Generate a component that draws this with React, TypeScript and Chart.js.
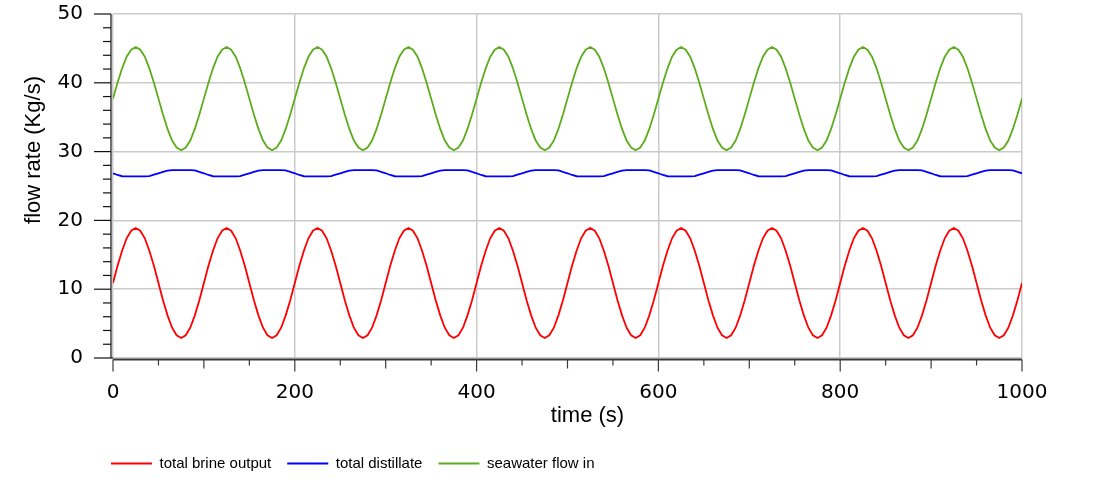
import { useEffect, useRef } from 'react';
import { Chart, registerables } from 'chart.js';

Chart.register(...registerables);

// sample times (s)
const timeSeconds = [
  0, 5, 10, 15, 20, 25, 30, 35, 40, 45, 50, 55, 60, 65, 70, 75, 80, 85, 90, 95,
  100, 105, 110, 115, 120, 125, 130, 135, 140, 145, 150, 155, 160, 165, 170, 175, 180, 185, 190, 195,
  200, 205, 210, 215, 220, 225, 230, 235, 240, 245, 250, 255, 260, 265, 270, 275, 280, 285, 290, 295,
  300, 305, 310, 315, 320, 325, 330, 335, 340, 345, 350, 355, 360, 365, 370, 375, 380, 385, 390, 395,
  400, 405, 410, 415, 420, 425, 430, 435, 440, 445, 450, 455, 460, 465, 470, 475, 480, 485, 490, 495,
  500, 505, 510, 515, 520, 525, 530, 535, 540, 545, 550, 555, 560, 565, 570, 575, 580, 585, 590, 595,
  600, 605, 610, 615, 620, 625, 630, 635, 640, 645, 650, 655, 660, 665, 670, 675, 680, 685, 690, 695,
  700, 705, 710, 715, 720, 725, 730, 735, 740, 745, 750, 755, 760, 765, 770, 775, 780, 785, 790, 795,
  800, 805, 810, 815, 820, 825, 830, 835, 840, 845, 850, 855, 860, 865, 870, 875, 880, 885, 890, 895,
  900, 905, 910, 915, 920, 925, 930, 935, 940, 945, 950, 955, 960, 965, 970, 975, 980, 985, 990, 995,
  1000,
];

// total brine output (Kg/s)
const brineOutput = [
  10.9, 13.4, 15.6, 17.4, 18.5, 18.9, 18.5, 17.4, 15.6, 13.4, 10.9, 8.4, 6.2, 4.4, 3.3, 2.9, 3.3, 4.4, 6.2, 8.4,
  10.9, 13.4, 15.6, 17.4, 18.5, 18.9, 18.5, 17.4, 15.6, 13.4, 10.9, 8.4, 6.2, 4.4, 3.3, 2.9, 3.3, 4.4, 6.2, 8.4,
  10.9, 13.4, 15.6, 17.4, 18.5, 18.9, 18.5, 17.4, 15.6, 13.4, 10.9, 8.4, 6.2, 4.4, 3.3, 2.9, 3.3, 4.4, 6.2, 8.4,
  10.9, 13.4, 15.6, 17.4, 18.5, 18.9, 18.5, 17.4, 15.6, 13.4, 10.9, 8.4, 6.2, 4.4, 3.3, 2.9, 3.3, 4.4, 6.2, 8.4,
  10.9, 13.4, 15.6, 17.4, 18.5, 18.9, 18.5, 17.4, 15.6, 13.4, 10.9, 8.4, 6.2, 4.4, 3.3, 2.9, 3.3, 4.4, 6.2, 8.4,
  10.9, 13.4, 15.6, 17.4, 18.5, 18.9, 18.5, 17.4, 15.6, 13.4, 10.9, 8.4, 6.2, 4.4, 3.3, 2.9, 3.3, 4.4, 6.2, 8.4,
  10.9, 13.4, 15.6, 17.4, 18.5, 18.9, 18.5, 17.4, 15.6, 13.4, 10.9, 8.4, 6.2, 4.4, 3.3, 2.9, 3.3, 4.4, 6.2, 8.4,
  10.9, 13.4, 15.6, 17.4, 18.5, 18.9, 18.5, 17.4, 15.6, 13.4, 10.9, 8.4, 6.2, 4.4, 3.3, 2.9, 3.3, 4.4, 6.2, 8.4,
  10.9, 13.4, 15.6, 17.4, 18.5, 18.9, 18.5, 17.4, 15.6, 13.4, 10.9, 8.4, 6.2, 4.4, 3.3, 2.9, 3.3, 4.4, 6.2, 8.4,
  10.9, 13.4, 15.6, 17.4, 18.5, 18.9, 18.5, 17.4, 15.6, 13.4, 10.9, 8.4, 6.2, 4.4, 3.3, 2.9, 3.3, 4.4, 6.2, 8.4,
  10.9,
];

// total distillate (Kg/s)
const totalDistillate = [
  26.85, 26.6, 26.42, 26.4, 26.4, 26.4, 26.4, 26.4, 26.45, 26.65, 26.85, 27.05, 27.25, 27.3, 27.3, 27.3, 27.3, 27.3, 27.27, 27.05,
  26.85, 26.6, 26.42, 26.4, 26.4, 26.4, 26.4, 26.4, 26.45, 26.65, 26.85, 27.05, 27.25, 27.3, 27.3, 27.3, 27.3, 27.3, 27.27, 27.05,
  26.85, 26.6, 26.42, 26.4, 26.4, 26.4, 26.4, 26.4, 26.45, 26.65, 26.85, 27.05, 27.25, 27.3, 27.3, 27.3, 27.3, 27.3, 27.27, 27.05,
  26.85, 26.6, 26.42, 26.4, 26.4, 26.4, 26.4, 26.4, 26.45, 26.65, 26.85, 27.05, 27.25, 27.3, 27.3, 27.3, 27.3, 27.3, 27.27, 27.05,
  26.85, 26.6, 26.42, 26.4, 26.4, 26.4, 26.4, 26.4, 26.45, 26.65, 26.85, 27.05, 27.25, 27.3, 27.3, 27.3, 27.3, 27.3, 27.27, 27.05,
  26.85, 26.6, 26.42, 26.4, 26.4, 26.4, 26.4, 26.4, 26.45, 26.65, 26.85, 27.05, 27.25, 27.3, 27.3, 27.3, 27.3, 27.3, 27.27, 27.05,
  26.85, 26.6, 26.42, 26.4, 26.4, 26.4, 26.4, 26.4, 26.45, 26.65, 26.85, 27.05, 27.25, 27.3, 27.3, 27.3, 27.3, 27.3, 27.27, 27.05,
  26.85, 26.6, 26.42, 26.4, 26.4, 26.4, 26.4, 26.4, 26.45, 26.65, 26.85, 27.05, 27.25, 27.3, 27.3, 27.3, 27.3, 27.3, 27.27, 27.05,
  26.85, 26.6, 26.42, 26.4, 26.4, 26.4, 26.4, 26.4, 26.45, 26.65, 26.85, 27.05, 27.25, 27.3, 27.3, 27.3, 27.3, 27.3, 27.27, 27.05,
  26.85, 26.6, 26.42, 26.4, 26.4, 26.4, 26.4, 26.4, 26.45, 26.65, 26.85, 27.05, 27.25, 27.3, 27.3, 27.3, 27.3, 27.3, 27.27, 27.05,
  26.85,
];

// seawater flow in (Kg/s)
const seawaterFlowIn = [
  37.7, 40.0, 42.1, 43.8, 44.8, 45.2, 44.8, 43.8, 42.1, 40.0, 37.7, 35.4, 33.3, 31.6, 30.6, 30.2, 30.6, 31.6, 33.3, 35.4,
  37.7, 40.0, 42.1, 43.8, 44.8, 45.2, 44.8, 43.8, 42.1, 40.0, 37.7, 35.4, 33.3, 31.6, 30.6, 30.2, 30.6, 31.6, 33.3, 35.4,
  37.7, 40.0, 42.1, 43.8, 44.8, 45.2, 44.8, 43.8, 42.1, 40.0, 37.7, 35.4, 33.3, 31.6, 30.6, 30.2, 30.6, 31.6, 33.3, 35.4,
  37.7, 40.0, 42.1, 43.8, 44.8, 45.2, 44.8, 43.8, 42.1, 40.0, 37.7, 35.4, 33.3, 31.6, 30.6, 30.2, 30.6, 31.6, 33.3, 35.4,
  37.7, 40.0, 42.1, 43.8, 44.8, 45.2, 44.8, 43.8, 42.1, 40.0, 37.7, 35.4, 33.3, 31.6, 30.6, 30.2, 30.6, 31.6, 33.3, 35.4,
  37.7, 40.0, 42.1, 43.8, 44.8, 45.2, 44.8, 43.8, 42.1, 40.0, 37.7, 35.4, 33.3, 31.6, 30.6, 30.2, 30.6, 31.6, 33.3, 35.4,
  37.7, 40.0, 42.1, 43.8, 44.8, 45.2, 44.8, 43.8, 42.1, 40.0, 37.7, 35.4, 33.3, 31.6, 30.6, 30.2, 30.6, 31.6, 33.3, 35.4,
  37.7, 40.0, 42.1, 43.8, 44.8, 45.2, 44.8, 43.8, 42.1, 40.0, 37.7, 35.4, 33.3, 31.6, 30.6, 30.2, 30.6, 31.6, 33.3, 35.4,
  37.7, 40.0, 42.1, 43.8, 44.8, 45.2, 44.8, 43.8, 42.1, 40.0, 37.7, 35.4, 33.3, 31.6, 30.6, 30.2, 30.6, 31.6, 33.3, 35.4,
  37.7, 40.0, 42.1, 43.8, 44.8, 45.2, 44.8, 43.8, 42.1, 40.0, 37.7, 35.4, 33.3, 31.6, 30.6, 30.2, 30.6, 31.6, 33.3, 35.4,
  37.7,
];

const seriesLabels = ['total brine output', 'total distillate', 'seawater flow in'];
const seriesColors = ['#ff0000', '#0000ff', '#5cac1c'];

const xAxisTitle = 'time (s)';
const yAxisTitle = 'flow rate (Kg/s)';
const xRange = [0, 1000];
const yRange = [0, 50];
const xLabelStep = 200;
const yLabelStep = 10;
const xMinorStep = 50;
const yMinorStep = 2;

const LEGEND_PAD = 16;
const LEGEND_X = 111;

const legendShift = {
  id: 'legendShift',
  beforeDraw(chart: any) {
    if (chart.legend) {
      chart.legend.left = LEGEND_X - LEGEND_PAD;
    }
  },
};

// the reference's axis titles sit off the axis centre
const titleOffsets: Record<string, [number, number]> = { x: [20, 0], y: [0, -36] };
const titleShift = {
  id: 'titleShift',
  afterLayout(chart: any) {
    Object.keys(titleOffsets).forEach((id) => {
      const s = chart.scales[id];
      if (!s || s.__titleShifted) return;
      const orig = s.drawTitle.bind(s);
      s.drawTitle = () => {
        const c = s.ctx;
        c.save();
        c.translate(titleOffsets[id][0], titleOffsets[id][1]);
        orig();
        c.restore();
      };
      s.__titleShifted = true;
    });
  },
};

const axisMarks = {
  id: 'axisMarks',
  afterDraw(chart: any) {
    const { ctx, chartArea: a, scales } = chart;
    const xs = scales.x;
    const ys = scales.y;
    const line = (x1: number, y1: number, x2: number, y2: number) => {
      ctx.beginPath();
      ctx.moveTo(x1, y1);
      ctx.lineTo(x2, y2);
      ctx.stroke();
    };
    ctx.save();
    // y axis
    ctx.strokeStyle = '#111';
    ctx.lineWidth = 1.2;
    const yx = a.left - 2;
    line(yx, a.top, yx, a.bottom);
    for (let v = yRange[0]; v <= yRange[1]; v += yMinorStep) {
      const py = ys.getPixelForValue(v);
      const major = v % yLabelStep === 0;
      line(yx - (major ? 17 : 8), py, v === yRange[0] ? a.left : yx, py);
    }
    // x axis
    ctx.strokeStyle = '#3a3a3a';
    ctx.lineWidth = 2;
    const xy = a.bottom + 1.5;
    line(a.left, xy, a.right, xy);
    ctx.lineWidth = 1.2;
    for (let v = xRange[0]; v <= xRange[1]; v += xMinorStep) {
      const px = xs.getPixelForValue(v);
      const len = v % xLabelStep === 0 ? 12 : v % 100 === 0 ? 9 : 6;
      line(px, xy, px, xy + len);
    }
    ctx.restore();
  },
};

export default function App() {
  const canvasRef = useRef<HTMLCanvasElement | null>(null);

  useEffect(() => {
    if (!canvasRef.current) return;
    const datasets = [brineOutput, totalDistillate, seawaterFlowIn].map((vals, i) => ({
      label: seriesLabels[i],
      data: vals,
      borderColor: seriesColors[i],
      backgroundColor: seriesColors[i],
      borderWidth: 1.8,
      pointRadius: 0,
      tension: 0,
      fill: false,
    }));
    const chart = new Chart(canvasRef.current, {
      type: 'line',
      data: { labels: timeSeconds, datasets },
      plugins: [legendShift, titleShift, axisMarks],
      options: {
        animation: false,
        responsive: true,
        maintainAspectRatio: false,
        events: [],
        layout: { padding: { top: 14, right: 72, left: 0, bottom: 0 } },
        plugins: {
          tooltip: { enabled: false },
          legend: {
            position: 'bottom',
            align: 'start',
            maxHeight: 40,
            labels: {
              boxWidth: 41,
              boxHeight: 0,
              padding: LEGEND_PAD,
              color: '#000',
              font: { family: 'Liberation Sans', size: 15 },
            },
          },
        },
        scales: {
          x: {
            type: 'linear',
            min: xRange[0],
            max: xRange[1],
            afterFit: (s: any) => {
              s.height = 82;
            },
            border: { display: false },
            grid: {
              color: '#cbcbcb',
              lineWidth: 1.5,
              drawTicks: true,
              tickLength: 23,
              tickColor: 'rgba(0,0,0,0)',
            },
            ticks: {
              stepSize: xLabelStep,
              autoSkip: false,
              maxRotation: 0,
              padding: 0,
              color: '#000',
              font: { family: 'DejaVu Sans', size: 20 },
              callback: (v: any) => String(v),
            },
            title: {
              display: true,
              text: xAxisTitle,
              color: '#000',
              font: { family: 'Liberation Sans', size: 22 },
              padding: { top: 0, bottom: 11 },
            },
          },
          y: {
            type: 'linear',
            min: yRange[0],
            max: yRange[1],
            afterFit: (s: any) => {
              s.width = 113;
            },
            border: { display: false },
            grid: {
              color: '#cbcbcb',
              lineWidth: 1.5,
              drawTicks: true,
              tickLength: 30,
              tickColor: 'rgba(0,0,0,0)',
            },
            ticks: {
              stepSize: yLabelStep,
              padding: 0,
              color: '#000',
              font: { family: 'DejaVu Sans', size: 20 },
              callback: (v: any) => String(v),
            },
            title: {
              display: true,
              text: yAxisTitle,
              color: '#000',
              font: { family: 'Liberation Sans', size: 22 },
              padding: { top: 21, bottom: 0 },
            },
          },
        },
      },
    });
    return () => chart.destroy();
  }, []);

  return (
    <div style={{ position: 'absolute', left: 0, top: 0, width: 1094, height: 480, background: '#fff' }}>
      <canvas ref={canvasRef} />
    </div>
  );
}
